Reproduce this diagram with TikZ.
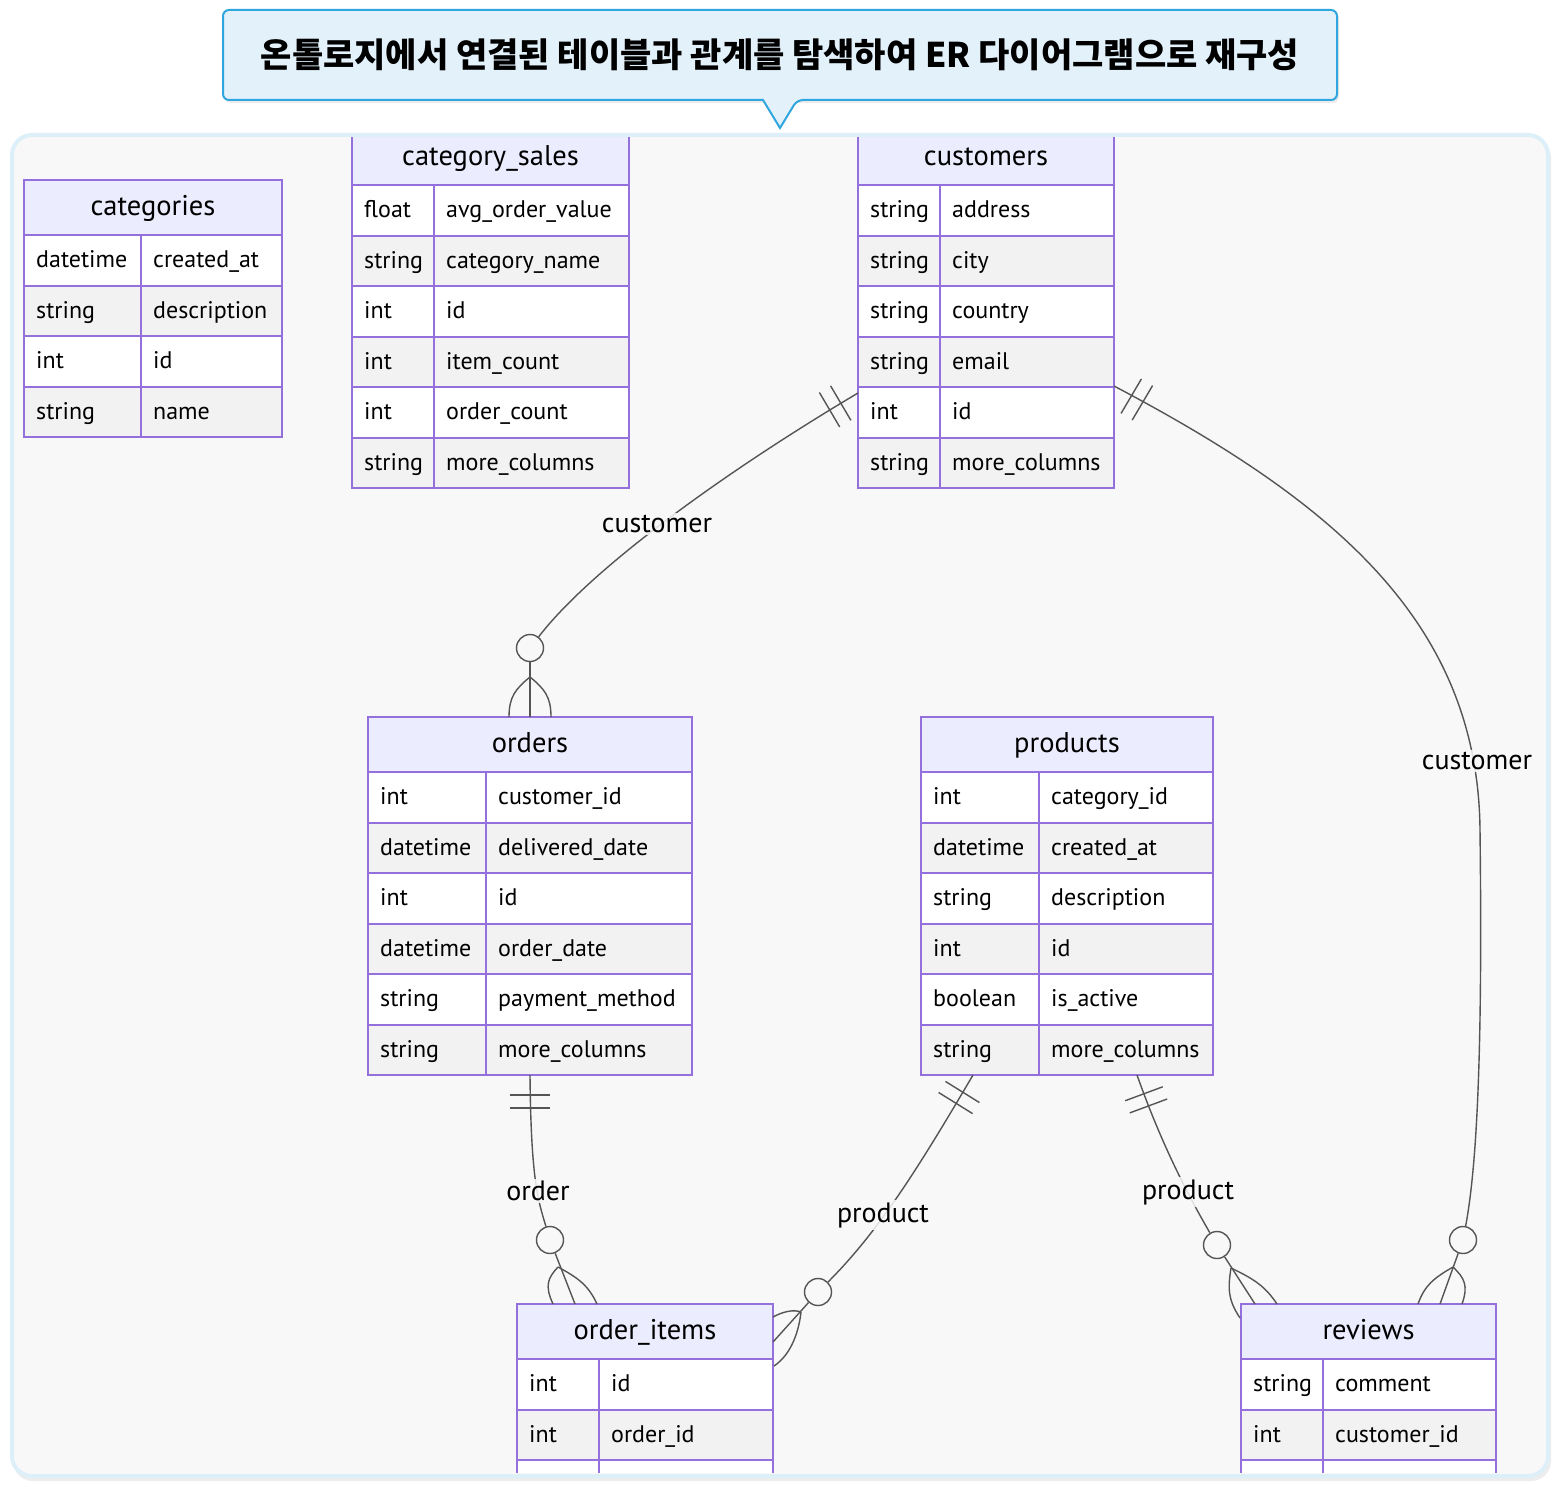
\documentclass[tikz,border=0pt]{standalone}
\usepackage{fontspec}
\setmainfont{PT Sans}
\newfontfamily\krfont{Noto Sans CJK KR}
\usetikzlibrary{calc}
\definecolor{panelbg}{HTML}{F8F8F8}
\definecolor{panelbd}{HTML}{DDEFF8}
\definecolor{titlebg}{HTML}{E3F1FB}
\definecolor{titlebd}{HTML}{2FA6DE}
\definecolor{hdrbg}{HTML}{ECECFF}
\definecolor{tblbd}{HTML}{9370DB}
\definecolor{rowgray}{HTML}{F2F2F2}
\definecolor{conncol}{HTML}{555555}
\tikzset{
  tblline/.style={draw=tblbd,line width=2},
  celltxt/.style={anchor=base west,inner sep=0,font=\fontsize{24}{28}\selectfont},
  hdrtxt/.style={anchor=base,inner sep=0,font=\fontsize{28.5}{32}\selectfont},
  conn/.style={draw=conncol,line width=1.4},
  erc/.style={circle,draw=conncol,line width=1.4,fill=panelbg,minimum size=27,inner sep=0},
  lbl/.style={inner sep=2,fill=panelbg,fill opacity=0.85,text opacity=1,font=\fontsize{28}{32}\selectfont}
}
\newcommand\ertable[7]{%
  \fill[hdrbg] (#2,#5) rectangle (#4,#5+55);
  \foreach \ty/\nm [count=\i] in {#7} {
    \pgfmathsetmacro\ya{#5+55+(\i-1)*50.5}
    \pgfmathsetmacro\yb{\ya+50.5}
    \pgfmathsetmacro\yt{\ya+25.25+7.5}
    \ifodd\i\relax\def\rc{white}\else\def\rc{rowgray}\fi
    \fill[\rc] (#2,\ya) rectangle (#4,\yb);
    \draw[tblline] (#2,\ya) rectangle (#4,\yb);
    \draw[tblline] (#3,\ya) -- (#3,\yb);
    \node[celltxt] at (#2+12,\yt) {\ty};
    \node[celltxt] at (#3+12,\yt) {\nm};
  }
  \draw[tblline] (#2,#5) rectangle (#4,#5+55);
  \node[hdrtxt] (#1) at ({(#2+#4)/2},#5+35.5) {#6};
}
\newcommand\erbars[2]{%
  \foreach \dd in {20,33} {
    \coordinate (tmpb) at ($(#1)!\dd pt!(#2)$);
    \draw[conn] ($(tmpb)!20pt!90:(#2)$) -- ($(tmpb)!20pt!-90:(#2)$);
  }
}
% #1 circle node, #2 origin, #3 middle end, #4 left end, #5 right end
\newcommand\erfoot[5]{%
  \draw[conn] (#1) -- (#3);
  \draw[conn] (#2) .. controls ($0.7*(#2)+0.7*(#4)-0.4*(#3)$) and ($(#4)-0.5*(#3)+0.5*(#2)$) .. (#4);
  \draw[conn] (#2) .. controls ($0.7*(#2)+0.7*(#5)-0.4*(#3)$) and ($(#5)-0.5*(#3)+0.5*(#2)$) .. (#5);
}
\begin{document}
\begin{tikzpicture}[x=1pt,y=-1pt]
\useasboundingbox (0,0) rectangle (1560,1490);
\fill[white] (0,0) rectangle (1560,1490);
% panel
\fill[black!7,rounded corners=20] (13,138) rectangle (1551,1481);
\draw[panelbd,line width=4,fill=panelbg,rounded corners=20] (12,135) rectangle (1548,1476);
% title callout
\fill[black!8,rounded corners=6] (225,13) rectangle (1339,103);
\draw[titlebd,line width=2,fill=titlebg,rounded corners=6]
  (763,100) -- (223,100) -- (223,10) -- (1337,10) -- (1337,100) -- (797,100)
  [sharp corners] -- (780,128) -- cycle;
\node[font=\krfont\bfseries\fontsize{34}{40}\selectfont] (title) at (780,55)
  {온톨로지에서 연결된 테이블과 관계를 탐색하여 ER 다이어그램으로 재구성};
\begin{scope}
\clip (14,138) rectangle (1546,1472);
\ertable{categories}{24}{141}{282}{180}{categories}
  {datetime/created\_at, string/description, int/id, string/name}
\ertable{catsales}{352}{434}{629}{130}{category\_sales}
  {float/avg\_order\_value, string/category\_name, int/id, int/item\_count, int/order\_count, string/more\_columns}
\ertable{customers}{858}{940}{1114}{130}{customers}
  {string/address, string/city, string/country, string/email, int/id, string/more\_columns}
\ertable{orders}{368}{486}{692}{717}{orders}
  {int/customer\_id, datetime/delivered\_date, int/id, datetime/order\_date, string/payment\_method, string/more\_columns}
\ertable{products}{921}{1039}{1213}{717}{products}
  {int/category\_id, datetime/created\_at, string/description, int/id, boolean/is\_active, string/more\_columns}
\ertable{orderitems}{517}{599}{773}{1304}{order\_items}
  {int/id, int/order\_id, {}/{}}
\ertable{reviews}{1241}{1323}{1496}{1304}{reviews}
  {string/comment, int/customer\_id, {}/{}}
% connector A: customers -> orders
\coordinate (cA0) at (858,393);
\coordinate (cAd) at (790,433);
\node[erc] (fA) at (530,648) {};
\draw[conn] (cA0) .. controls (720,475) and (590,570) .. (fA);
\erbars{cA0}{cAd}
\coordinate (oA) at (530,677); \coordinate (mA) at (530,717);
\coordinate (lA) at (509,717); \coordinate (rA) at (551,717);
\erfoot{fA}{oA}{mA}{lA}{rA}
% connector B: orders -> order_items
\coordinate (cB0) at (530,1075);
\coordinate (cBd) at (530,1120);
\node[erc] (fB) at (550,1240) {};
\draw[conn] (cB0) .. controls (531,1180) and (538,1200) .. (fB);
\erbars{cB0}{cBd}
\coordinate (oB) at (558,1267); \coordinate (mB) at (575,1304);
\coordinate (lB) at (553,1304); \coordinate (rB) at (597,1304);
\erfoot{fB}{oB}{mB}{lB}{rB}
% connector C: products -> order_items
\coordinate (cC0) at (973,1075);
\coordinate (cCd) at (950,1112);
\node[erc] (fC) at (818,1292) {};
\draw[conn] (cC0) .. controls (920,1165) and (880,1230) .. (fC);
\erbars{cC0}{cCd}
\coordinate (oC) at (801,1312); \coordinate (mC) at (773,1342);
\coordinate (lC) at (773,1317); \coordinate (rC) at (774,1366);
\draw[conn] (fC) -- (mC);
\draw[conn] (oC) .. controls (793,1309) and (782,1312) .. (lC);
\draw[conn] (oC) .. controls (799,1330) and (792,1354) .. (rC);
% connector D: products -> reviews
\coordinate (cD0) at (1137,1075);
\coordinate (cDd) at (1150,1110);
\node[erc] (fD) at (1217,1245) {};
\draw[conn] (cD0) .. controls (1160,1140) and (1185,1190) .. (fD);
\erbars{cD0}{cDd}
\coordinate (oD) at (1231,1268); \coordinate (mD) at (1255,1304);
\coordinate (lD) at (1240,1318); \coordinate (rD) at (1277,1304);
\erfoot{fD}{oD}{mD}{lD}{rD}
% connector E: customers -> reviews
\coordinate (cE0) at (1114,386);
\coordinate (cEd) at (1180,425);
\node[erc] (fE) at (1463,1240) {};
\draw[conn] (cE0) .. controls (1330,500) and (1478,620) .. (1480,830)
  .. controls (1482,1000) and (1480,1150) .. (fE);
\erbars{cE0}{cEd}
\coordinate (oE) at (1453,1267); \coordinate (mE) at (1440,1304);
\coordinate (lE) at (1418,1304); \coordinate (rE) at (1462,1304);
\erfoot{fE}{oE}{mE}{lE}{rE}
% labels
\node[lbl] (labA) at (657,524) {customer};
\node[lbl] (labB) at (538,1191) {order};
\node[lbl] (labC) at (883,1215) {product};
\node[lbl] (labD) at (1188,1192) {product};
\node[lbl] (labE) at (1477,761) {customer};
\end{scope}
\end{tikzpicture}
\end{document}
